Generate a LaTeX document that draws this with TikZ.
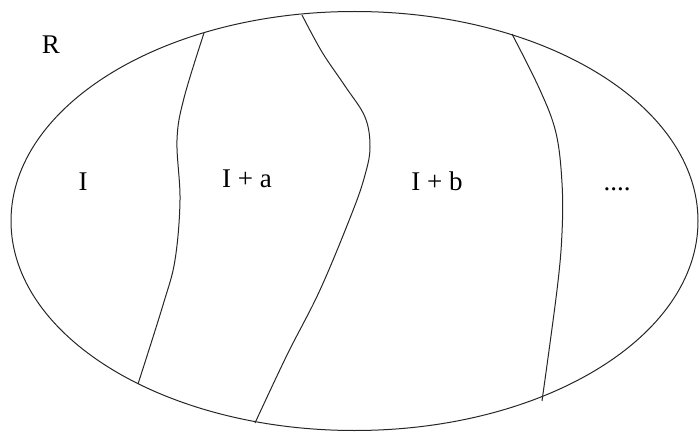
\documentclass[tikz,border=0pt]{standalone}
\usepackage{fontspec}
\setmainfont{Liberation Serif}
\usetikzlibrary{positioning}
\tikzset{
  rim/.style={line width=1pt,black!85},
  cut/.style={line width=1pt,black!85},
  lbl/.style={font=\fontsize{27}{30}\selectfont,anchor=base,inner sep=0pt}
}
\begin{document}
\begin{tikzpicture}[x=1pt,y=-1pt]
\useasboundingbox (0,0) rectangle (699,433);
% the ring and its cosets
\draw[rim] (354.5,221) ellipse [x radius=343.5,y radius=209.5];
\draw[cut] plot[smooth,tension=0.6] coordinates {(204,33) (184,98) (177,140) (180,200) (175,260) (163,305) (138,384)};
\draw[cut] plot[smooth,tension=0.6] coordinates {(302,15) (322,52) (345,86) (365,117) (370,147) (365,175) (352,213) (320,290) (287,355) (255,423)};
\draw[cut] plot[smooth,tension=0.6] coordinates {(512,34) (540,90) (556,133) (562,183) (562,233) (557,290) (542,401)};
% labels
\node[lbl] (ring) at (51,54) {R};
\node[lbl] (coset0) at (83,190) {I};
\node[lbl] (coseta) at (247,188) {I + a};
\node[lbl] (cosetb) at (437,190) {I + b};
\node[lbl] (more) at (617,190) {....};
\end{tikzpicture}
\end{document}
